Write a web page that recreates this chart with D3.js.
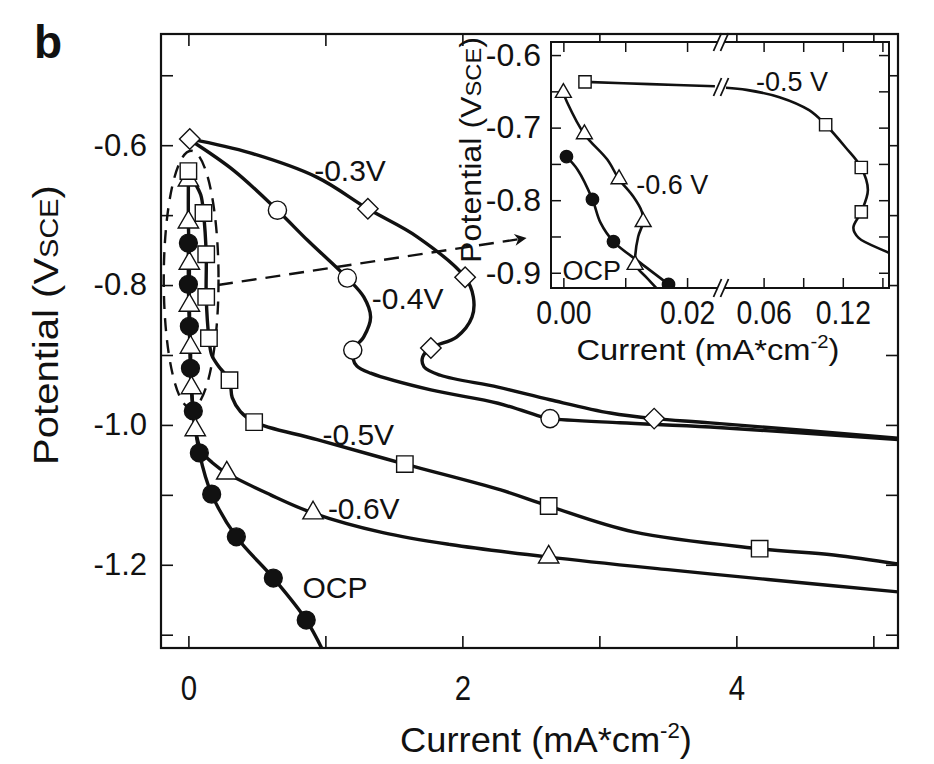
<!DOCTYPE html>
<html>
<head>
<meta charset="utf-8">
<script src="https://cdn.jsdelivr.net/npm/d3@7"></script>
<style>
  body { margin: 0; background: #fff; }
  text { font-family: "Liberation Sans", Arial, sans-serif; fill: #111; }
</style>
</head>
<body>
<svg width="934" height="764"></svg>
<script>
// ---------- main plot data: [current mA/cm2, potential V_SCE] ----------
const xTickVals = [0, 1, 2, 3, 4, 5];
const xTickLabels = [0, 2, 4];
const yTickVals = [-0.5, -0.6, -0.7, -0.8, -0.9, -1.0, -1.1, -1.2, -1.3];
const yTickLabels = [-0.6, -0.8, -1.0, -1.2];

const line03 = [[0.01,-0.591],[0.45,-0.611],[0.94,-0.646],[1.31,-0.691],[1.67,-0.731],[2.02,-0.789],
  [2.08,-0.817],[2.07,-0.846],[1.96,-0.874],[1.77,-0.890],[1.71,-0.903],[1.72,-0.917],[1.84,-0.929],
  [2.26,-0.946],[2.64,-0.964],[3.08,-0.983],[3.40,-0.991],[3.81,-0.997],[5.25,-1.020]];
const mark03 = [[0.01,-0.591],[1.31,-0.691],[2.02,-0.789],[1.77,-0.890],[3.40,-0.991]];

const line04 = [[0.015,-0.593],[0.33,-0.636],[0.65,-0.693],[0.87,-0.736],[1.16,-0.790],[1.28,-0.817],
  [1.33,-0.846],[1.28,-0.874],[1.20,-0.893],[1.20,-0.904],[1.23,-0.916],[1.33,-0.926],[1.77,-0.950],
  [2.26,-0.969],[2.59,-0.989],[2.64,-0.991],[3.15,-0.997],[3.81,-1.003],[5.25,-1.022]];
const mark04 = [[0.65,-0.693],[1.16,-0.790],[1.20,-0.893],[2.64,-0.991]];

const line05 = [[0,-0.637],[0.036,-0.650],[0.09,-0.671],[0.11,-0.697],[0.13,-0.756],[0.13,-0.817],
  [0.15,-0.876],[0.17,-0.900],[0.22,-0.916],[0.30,-0.936],[0.32,-0.961],[0.38,-0.981],[0.48,-0.996],
  [0.94,-1.021],[1.58,-1.056],[2.28,-1.093],[2.63,-1.116],[3.25,-1.153],[4.17,-1.177],[4.71,-1.186],[5.25,-1.201]];
const mark05 = [[0,-0.637],[0.11,-0.697],[0.13,-0.756],[0.13,-0.817],[0.15,-0.876],[0.30,-0.936],
  [0.48,-0.996],[1.58,-1.056],[2.63,-1.116],[4.17,-1.177]];

const line06 = [[0,-0.650],[0,-0.710],[0.007,-0.769],[0.007,-0.829],[0.015,-0.889],[0.022,-0.947],
  [0.05,-1.007],[0.10,-1.039],[0.175,-1.054],[0.28,-1.069],[0.60,-1.100],[0.91,-1.126],[1.42,-1.154],
  [1.91,-1.171],[2.63,-1.189],[3.50,-1.207],[4.23,-1.221],[5.25,-1.240]];
const mark06 = [[0,-0.650],[0,-0.710],[0.007,-0.769],[0.007,-0.829],[0.015,-0.889],[0.022,-0.947],
  [0.05,-1.007],[0.28,-1.069],[0.91,-1.126],[2.63,-1.189]];

const lineOCP = [[0,-0.740],[0,-0.799],[0.007,-0.859],[0.015,-0.919],[0.036,-0.980],[0.08,-1.040],
  [0.17,-1.099],[0.35,-1.160],[0.62,-1.219],[0.86,-1.279],[1.0,-1.330]];
const markOCP = [[0,-0.740],[0,-0.799],[0.007,-0.859],[0.015,-0.919],[0.036,-0.980],[0.08,-1.040],
  [0.17,-1.099],[0.35,-1.160],[0.62,-1.219],[0.86,-1.279]];

const mainLabels = [["-0.3V",1.18,-0.636],["-0.4V",1.60,-0.819],["-0.5V",1.24,-1.013],
  ["-0.6V",1.28,-1.119],["OCP",1.07,-1.232]];

// ---------- inset data ----------
const inXLeftTicks = [0, 0.01, 0.02];
const inXRightTicks = [0.06, 0.09, 0.12, 0.15];
const inXLabels = [0, 0.02, 0.06, 0.12];
const inYTicks = [-0.6, -0.65, -0.7, -0.75, -0.8, -0.85, -0.9];
const inYLabels = [-0.6, -0.7, -0.8, -0.9];

const in05 = [[0.0035,-0.637],[0.014,-0.640],[0.0245,-0.643],[0.0315,-0.645],[0.047,-0.648],[0.072,-0.658],
  [0.0945,-0.676],[0.107,-0.696],[0.122,-0.727],[0.134,-0.755],[0.139,-0.786],[0.134,-0.816],
  [0.128,-0.838],[0.132,-0.852],[0.153,-0.871],[0.158,-0.876]];
const in05Marks = [[0.0035,-0.637],[0.107,-0.696],[0.134,-0.755],[0.134,-0.816]];
const in06 = [[0,-0.652],[0.0006,-0.665],[0.0034,-0.709],[0.0071,-0.744],[0.009,-0.771],[0.0113,-0.795],
  [0.0127,-0.816],[0.0129,-0.830],[0.0121,-0.850],[0.0116,-0.878],[0.0116,-0.889],[0.0135,-0.907],[0.0158,-0.928]];
const in06Marks = [[0,-0.652],[0.0034,-0.709],[0.009,-0.771],[0.0129,-0.830],[0.0116,-0.889]];
const inOCP = [[0.0005,-0.740],[0.0023,-0.758],[0.0047,-0.799],[0.006,-0.831],[0.0081,-0.857],
  [0.0124,-0.886],[0.017,-0.916],[0.019,-0.930]];
const inOCPMarks = [[0.0005,-0.740],[0.0047,-0.799],[0.0081,-0.857],[0.017,-0.916]];
const insetLabels = [["-0.5 V",0.0815,-0.636],["-0.6 V",0.0176,-0.778],["OCP",0.0046,-0.897]];

// ---------- setup ----------
const svg = d3.select('svg');
const x = d3.scaleLinear().domain([-0.2, 5.18]).range([161, 898]);
const y = d3.scaleLinear().domain([-0.441, -1.319]).range([34, 648]);

const defs = svg.append('defs');
defs.append('clipPath').attr('id', 'clipMain').append('rect')
  .attr('x', 161).attr('y', 34).attr('width', 737).attr('height', 614);
defs.append('marker').attr('id', 'arrow').attr('viewBox', '0 0 10 10')
  .attr('refX', 9).attr('refY', 5).attr('markerWidth', 16).attr('markerHeight', 12)
  .attr('markerUnits', 'userSpaceOnUse').attr('orient', 'auto')
  .append('path').attr('d', 'M0,0 L10,5 L0,10 L3,5 Z').attr('fill', '#111');

function drawMarks(g, pts, sx, sy, type, size, fill, rot) {
  g.selectAll(null).data(pts).enter().append('path')
    .attr('d', d3.symbol().type(type).size(size))
    .attr('transform', d => `translate(${sx(d[0])},${sy(d[1])})` + (rot ? ` rotate(${rot})` : ''))
    .attr('fill', fill).attr('stroke', '#111').attr('stroke-width', 1.4);
}

// panel letter
svg.append('text').attr('x', 34).attr('y', 58).attr('font-size', 46).attr('font-weight', 'bold').text('b');

// ---------- main axes ----------
const fmt1 = d => d.toFixed(1);
const gB = svg.append('g').attr('transform', 'translate(0,648)')
  .call(d3.axisBottom(x).tickValues(xTickVals).tickSize(-12).tickPadding(27)
    .tickFormat(d => xTickLabels.includes(d) ? d : ''));
const gT = svg.append('g').attr('transform', 'translate(0,34)')
  .call(d3.axisTop(x).tickValues(xTickVals).tickSize(-12).tickFormat(''));
const gL = svg.append('g').attr('transform', 'translate(161,0)')
  .call(d3.axisLeft(y).tickValues(yTickVals).tickSize(-12).tickPadding(14)
    .tickFormat(d => yTickLabels.some(v => Math.abs(v - d) < 1e-9) ? fmt1(d) : ''));
const gR = svg.append('g').attr('transform', 'translate(898,0)')
  .call(d3.axisRight(y).tickValues(yTickVals).tickSize(-12).tickFormat(''));
[gB, gT, gL, gR].forEach(g => {
  g.select('.domain').remove();
  g.selectAll('line').attr('stroke', '#111').attr('stroke-width', 1.6);
});
gB.selectAll('text').attr('font-size', 35).attr('fill', '#111').attr('transform', 'scale(0.84,1)')
  .style('font-family', '"Liberation Sans", Arial, sans-serif');
gL.selectAll('text').attr('font-size', 31).attr('fill', '#111')
  .style('font-family', '"Liberation Sans", Arial, sans-serif');

svg.append('rect').attr('x', 161).attr('y', 34).attr('width', 737).attr('height', 614)
  .attr('fill', 'none').attr('stroke', '#111').attr('stroke-width', 2.2);

// axis titles
function fitText(t, cx, cy, w, rot) {
  const b = t.node().getBBox();
  t.attr('transform', `translate(${cx},${cy})` + (rot ? ` rotate(${rot})` : '') + ` scale(${w / b.width},1)`);
}
const xt = svg.append('text').attr('text-anchor', 'middle').attr('font-size', 36);
xt.append('tspan').text('Current  (mA*cm');
xt.append('tspan').attr('font-size', 22).attr('dy', -14).text('-2');
xt.append('tspan').attr('dy', 14).text(')');
fitText(xt, 546, 752, 292);

const yt = svg.append('text').attr('text-anchor', 'middle').attr('font-size', 36);
yt.append('tspan').text('Potential  (V');
yt.append('tspan').attr('font-size', 26).text('SCE');
yt.append('tspan').text(')');
fitText(yt, 58, 325, 280, -90);

// ---------- main curves ----------
const gData = svg.append('g');
const lineGen = d3.line().x(d => x(d[0])).y(d => y(d[1])).curve(d3.curveCatmullRom.alpha(0.5));
const gLines = gData.append('g').attr('clip-path', 'url(#clipMain)');
[line03, line04, line05, line06, lineOCP].forEach(l => {
  gLines.append('path').attr('d', lineGen(l)).attr('fill', 'none')
    .attr('stroke', '#111').attr('stroke-width', 3.4).attr('stroke-linejoin', 'round');
});

// zoom ellipse + arrow
gData.append('ellipse').attr('cx', x(0.02)).attr('cy', y(-0.792))
  .attr('rx', x(0.2) - x(0)).attr('ry', y(-0.792) - y(-0.608))
  .attr('fill', 'none').attr('stroke', '#111').attr('stroke-width', 2.4).attr('stroke-dasharray', '13,9');
gData.append('line').attr('x1', x(0.216)).attr('y1', y(-0.80)).attr('x2', x(2.46)).attr('y2', y(-0.733))
  .attr('stroke', '#111').attr('stroke-width', 2.4).attr('stroke-dasharray', '15,9')
  .attr('marker-end', 'url(#arrow)');

drawMarks(gData, markOCP, x, y, d3.symbolCircle, 250, '#111');
drawMarks(gData, mark06, x, y, d3.symbolTriangle, 180, '#fff');
drawMarks(gData, mark05, x, y, d3.symbolSquare, 270, '#fff');
drawMarks(gData, mark04, x, y, d3.symbolCircle, 260, '#fff');
drawMarks(gData, mark03, x, y, d3.symbolSquare, 210, '#fff', 45);

gData.selectAll(null).data(mainLabels).enter().append('text')
  .attr('x', d => x(d[1])).attr('y', d => y(d[2])).attr('dy', '0.36em')
  .attr('text-anchor', 'middle').attr('font-size', 30).text(d => d[0]);

// ---------- inset ----------
const xl = d3.scaleLinear().domain([-0.002, 0.025]).range([551, 718]);
const xr = d3.scaleLinear().domain([0.03, 0.155]).range([724, 889]);
const breakAt = 0.027;
const xi = v => v <= breakAt ? xl(v) : xr(v);
const yi = d3.scaleLinear().domain([-0.582, -0.921]).range([42, 288]);

const gIn = svg.append('g');
gIn.append('rect').attr('x', 551).attr('y', 42).attr('width', 338).attr('height', 246).attr('fill', '#fff');
defs.append('clipPath').attr('id', 'clipIn').append('rect')
  .attr('x', 551).attr('y', 42).attr('width', 338).attr('height', 246);

const inAxes = [
  gIn.append('g').attr('transform', 'translate(0,288)').call(d3.axisBottom(xl).tickValues(inXLeftTicks).tickSize(-10).tickPadding(13)
    .tickFormat(d => inXLabels.includes(d) ? d.toFixed(2) : '')),
  gIn.append('g').attr('transform', 'translate(0,288)').call(d3.axisBottom(xr).tickValues(inXRightTicks).tickSize(-10).tickPadding(13)
    .tickFormat(d => inXLabels.includes(d) ? d.toFixed(2) : '')),
  gIn.append('g').attr('transform', 'translate(0,42)').call(d3.axisTop(xl).tickValues(inXLeftTicks).tickSize(-10).tickFormat('')),
  gIn.append('g').attr('transform', 'translate(0,42)').call(d3.axisTop(xr).tickValues(inXRightTicks).tickSize(-10).tickFormat('')),
  gIn.append('g').attr('transform', 'translate(551,0)').call(d3.axisLeft(yi).tickValues(inYTicks).tickSize(-10).tickPadding(10)
    .tickFormat(d => inYLabels.some(v => Math.abs(v - d) < 1e-9) ? fmt1(d) : '')),
  gIn.append('g').attr('transform', 'translate(889,0)').call(d3.axisRight(yi).tickValues(inYTicks).tickSize(-10).tickFormat(''))
];
inAxes.forEach(g => {
  g.select('.domain').remove();
  g.selectAll('line').attr('stroke', '#111').attr('stroke-width', 1.5);
  g.selectAll('text').attr('fill', '#111').style('font-family', '"Liberation Sans", Arial, sans-serif');
});
inAxes[0].selectAll('text').attr('font-size', 33).attr('transform', 'scale(0.86,1)');
inAxes[1].selectAll('text').attr('font-size', 33).attr('transform', 'scale(0.86,1)');
inAxes[4].selectAll('text').attr('font-size', 32);

// inset frame with axis break
const frame = gIn.append('g').attr('stroke', '#111').attr('stroke-width', 2).attr('fill', 'none');
[42, 288].forEach(yy => {
  frame.append('line').attr('x1', 551).attr('x2', xl(0.025)).attr('y1', yy).attr('y2', yy);
  frame.append('line').attr('x1', xr(0.03)).attr('x2', 889).attr('y1', yy).attr('y2', yy);
});
frame.append('line').attr('x1', 551).attr('x2', 551).attr('y1', 41).attr('y2', 289);
frame.append('line').attr('x1', 889).attr('x2', 889).attr('y1', 41).attr('y2', 289);
function breakMark(cx, cy) {
  [-3.5, 3.5].forEach(o => {
    gIn.append('line').attr('x1', cx + o - 4).attr('y1', cy + 9).attr('x2', cx + o + 4).attr('y2', cy - 9)
      .attr('stroke', '#111').attr('stroke-width', 1.8);
  });
}
const bx = (xl(0.025) + xr(0.03)) / 2;
breakMark(bx, 42);
breakMark(bx, 288);

// inset titles
const ixt = gIn.append('text').attr('text-anchor', 'middle').attr('font-size', 29);
ixt.append('tspan').text('Current (mA*cm');
ixt.append('tspan').attr('font-size', 18).attr('dy', -12).text('-2');
ixt.append('tspan').attr('dy', 12).text(')');
fitText(ixt, 708, 360, 263);
const iyt = gIn.append('text').attr('text-anchor', 'middle').attr('font-size', 30);
iyt.append('tspan').text('Potential (V');
iyt.append('tspan').attr('font-size', 22).text('SCE');
iyt.append('tspan').text(')');
fitText(iyt, 481, 150, 226, -90);

// inset curves (split at the axis break)
const inLine = d3.line().x(d => xi(d[0])).y(d => yi(d[1])).curve(d3.curveCatmullRom.alpha(0.5));
const gInData = gIn.append('g').attr('clip-path', 'url(#clipIn)');
[in05, in06, inOCP].forEach(l => {
  const left = l.filter(d => d[0] <= breakAt), right = l.filter(d => d[0] > breakAt);
  [left, right].forEach(seg => {
    if (seg.length > 1) gInData.append('path').attr('d', inLine(seg)).attr('fill', 'none')
      .attr('stroke', '#111').attr('stroke-width', 2.6).attr('stroke-linejoin', 'round');
  });
});
// break marks on the -0.5 V curve
const l05 = in05.filter(d => d[0] <= breakAt), r05 = in05.filter(d => d[0] > breakAt);
breakMark(bx, (yi(l05[l05.length - 1][1]) + yi(r05[0][1])) / 2);

drawMarks(gInData, inOCPMarks, xi, yi, d3.symbolCircle, 120, '#111');
drawMarks(gInData, in06Marks, xi, yi, d3.symbolTriangle, 110, '#fff');
drawMarks(gInData, in05Marks, xi, yi, d3.symbolSquare, 150, '#fff');

gIn.selectAll(null).data(insetLabels).enter().append('text')
  .attr('x', d => xi(d[1])).attr('y', d => yi(d[2])).attr('dy', '0.36em')
  .attr('text-anchor', 'middle').attr('font-size', 27).text(d => d[0]);
</script>
</body>
</html>
